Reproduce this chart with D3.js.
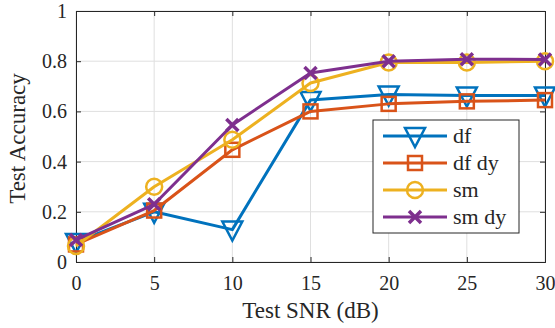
<!DOCTYPE html>
<html>
<head>
<meta charset="utf-8">
<script src="https://cdn.jsdelivr.net/npm/d3@7"></script>
<style>
body { margin: 0; background: #fff; }
text { font-family: "Liberation Serif", "DejaVu Serif", serif; fill: #262626; }
</style>
</head>
<body>
<div id="chart"></div>
<script>
let width = 555
let height = 328

// SNR values and accuracy per model
let snr = [0, 5, 10, 15, 20, 25, 30]
let df = [0.08, 0.20, 0.129, 0.645, 0.667, 0.663, 0.663]
let df_dy = [0.07, 0.205, 0.447, 0.60, 0.63, 0.64, 0.645]
let sm = [0.064, 0.30, 0.487, 0.713, 0.795, 0.795, 0.80]
let sm_dy = [0.088, 0.23, 0.546, 0.753, 0.80, 0.808, 0.807]

let names = ['df', 'df dy', 'sm', 'sm dy']
let colors = ['#0072BD', '#D95319', '#EDB120', '#7E2F8E']
let markers = ['tri', 'square', 'circle', 'cross']
let xTicks = [0, 5, 10, 15, 20, 25, 30]
let yTicks = [0, 0.2, 0.4, 0.6, 0.8, 1]

let series = [df, df_dy, sm, sm_dy].map((vals, i) => ({
    name: names[i], color: colors[i], marker: markers[i],
    points: vals.map((v, j) => [snr[j], v])
}))

let padding = { left: 76, right: 10, top: 11, bottom: 66 }

let svg = d3.select('#chart').append('svg')
    .attr('width', width)
    .attr('height', height)

let x = d3.scaleLinear().domain([0, 30]).range([padding.left, width - padding.right])
let y = d3.scaleLinear().domain([0, 1]).range([height - padding.bottom, padding.top])

// grid
svg.append('g').selectAll('line')
    .data(xTicks).join('line')
    .attr('x1', d => x(d)).attr('x2', d => x(d))
    .attr('y1', y(0)).attr('y2', y(1))
    .attr('stroke', '#dfdfdf').attr('stroke-width', 1)
svg.append('g').selectAll('line')
    .data(yTicks).join('line')
    .attr('x1', x(0)).attr('x2', x(30))
    .attr('y1', d => y(d)).attr('y2', d => y(d))
    .attr('stroke', '#dfdfdf').attr('stroke-width', 1)

// axes (ticks inside, MATLAB style)
svg.append('g')
    .attr('transform', `translate(0,${y(0)})`)
    .call(d3.axisBottom(x).tickValues(xTicks).tickSize(-5).tickPadding(14).tickFormat(d3.format('d')))
svg.append('g')
    .attr('transform', `translate(0,${y(1)})`)
    .call(d3.axisTop(x).tickValues(xTicks).tickSize(-5).tickFormat(''))
svg.append('g')
    .attr('transform', `translate(${x(0)},0)`)
    .call(d3.axisLeft(y).tickValues(yTicks).tickSize(-5).tickPadding(9).tickFormat(d => d === 0 || d === 1 ? d : d.toFixed(1)))
svg.append('g')
    .attr('transform', `translate(${x(30)},0)`)
    .call(d3.axisRight(y).tickValues(yTicks).tickSize(-5).tickFormat(''))

svg.selectAll('.domain').attr('stroke', '#262626').attr('stroke-width', 1)
svg.selectAll('.tick line').attr('stroke', '#262626')
svg.selectAll('.tick text').style('font-size', '20px').attr('fill', '#262626')
    .style('font-family', '"Liberation Serif", serif')

function drawMarker(g, type, color, cx, cy) {
    if (type === 'tri') {
        g.append('path')
            .attr('d', `M${cx - 10},${cy - 8} L${cx + 10},${cy - 8} L${cx},${cy + 11} Z`)
            .attr('fill', 'none').attr('stroke', color).attr('stroke-width', 2.5)
            .attr('stroke-linejoin', 'miter')
    } else if (type === 'square') {
        g.append('rect')
            .attr('x', cx - 7).attr('y', cy - 7).attr('width', 14).attr('height', 14)
            .attr('fill', 'none').attr('stroke', color).attr('stroke-width', 2.5)
    } else if (type === 'circle') {
        g.append('circle')
            .attr('cx', cx).attr('cy', cy).attr('r', 8)
            .attr('fill', 'none').attr('stroke', color).attr('stroke-width', 2.5)
    } else {
        g.append('path')
            .attr('d', `M${cx - 6},${cy - 6} L${cx + 6},${cy + 6} M${cx - 6},${cy + 6} L${cx + 6},${cy - 6}`)
            .attr('fill', 'none').attr('stroke', color).attr('stroke-width', 3.5)
    }
}

let line = d3.line().x(d => x(d[0])).y(d => y(d[1]))

series.forEach(s => {
    let g = svg.append('g')
    g.append('path')
        .datum(s.points)
        .attr('d', line)
        .attr('fill', 'none')
        .attr('stroke', s.color)
        .attr('stroke-width', 3)
        .attr('stroke-linejoin', 'round')
    s.points.forEach(p => drawMarker(g, s.marker, s.color, x(p[0]), y(p[1])))
})

// axis labels
svg.append('text')
    .attr('x', (x(0) + x(30)) / 2).attr('y', 318)
    .attr('text-anchor', 'middle')
    .style('font-size', '23px')
    .text('Test SNR (dB)')
svg.append('text')
    .attr('transform', `translate(25,${(y(0) + y(1)) / 2 + 2}) rotate(-90)`)
    .attr('text-anchor', 'middle')
    .style('font-size', '23px')
    .text('Test Accuracy')

// legend
let legend = svg.append('g').attr('transform', 'translate(373,120)')
legend.append('rect')
    .attr('width', 146).attr('height', 113)
    .attr('fill', '#fff').attr('stroke', '#262626').attr('stroke-width', 1)
series.forEach((s, i) => {
    let ly = 16 + i * 27
    legend.append('line')
        .attr('x1', 10).attr('x2', 74).attr('y1', ly).attr('y2', ly)
        .attr('stroke', s.color).attr('stroke-width', 3)
    drawMarker(legend, s.marker, s.color, 42, ly)
    legend.append('text')
        .attr('x', 80).attr('y', ly + 7)
        .style('font-size', '22px')
        .text(s.name)
})
</script>
</body>
</html>
